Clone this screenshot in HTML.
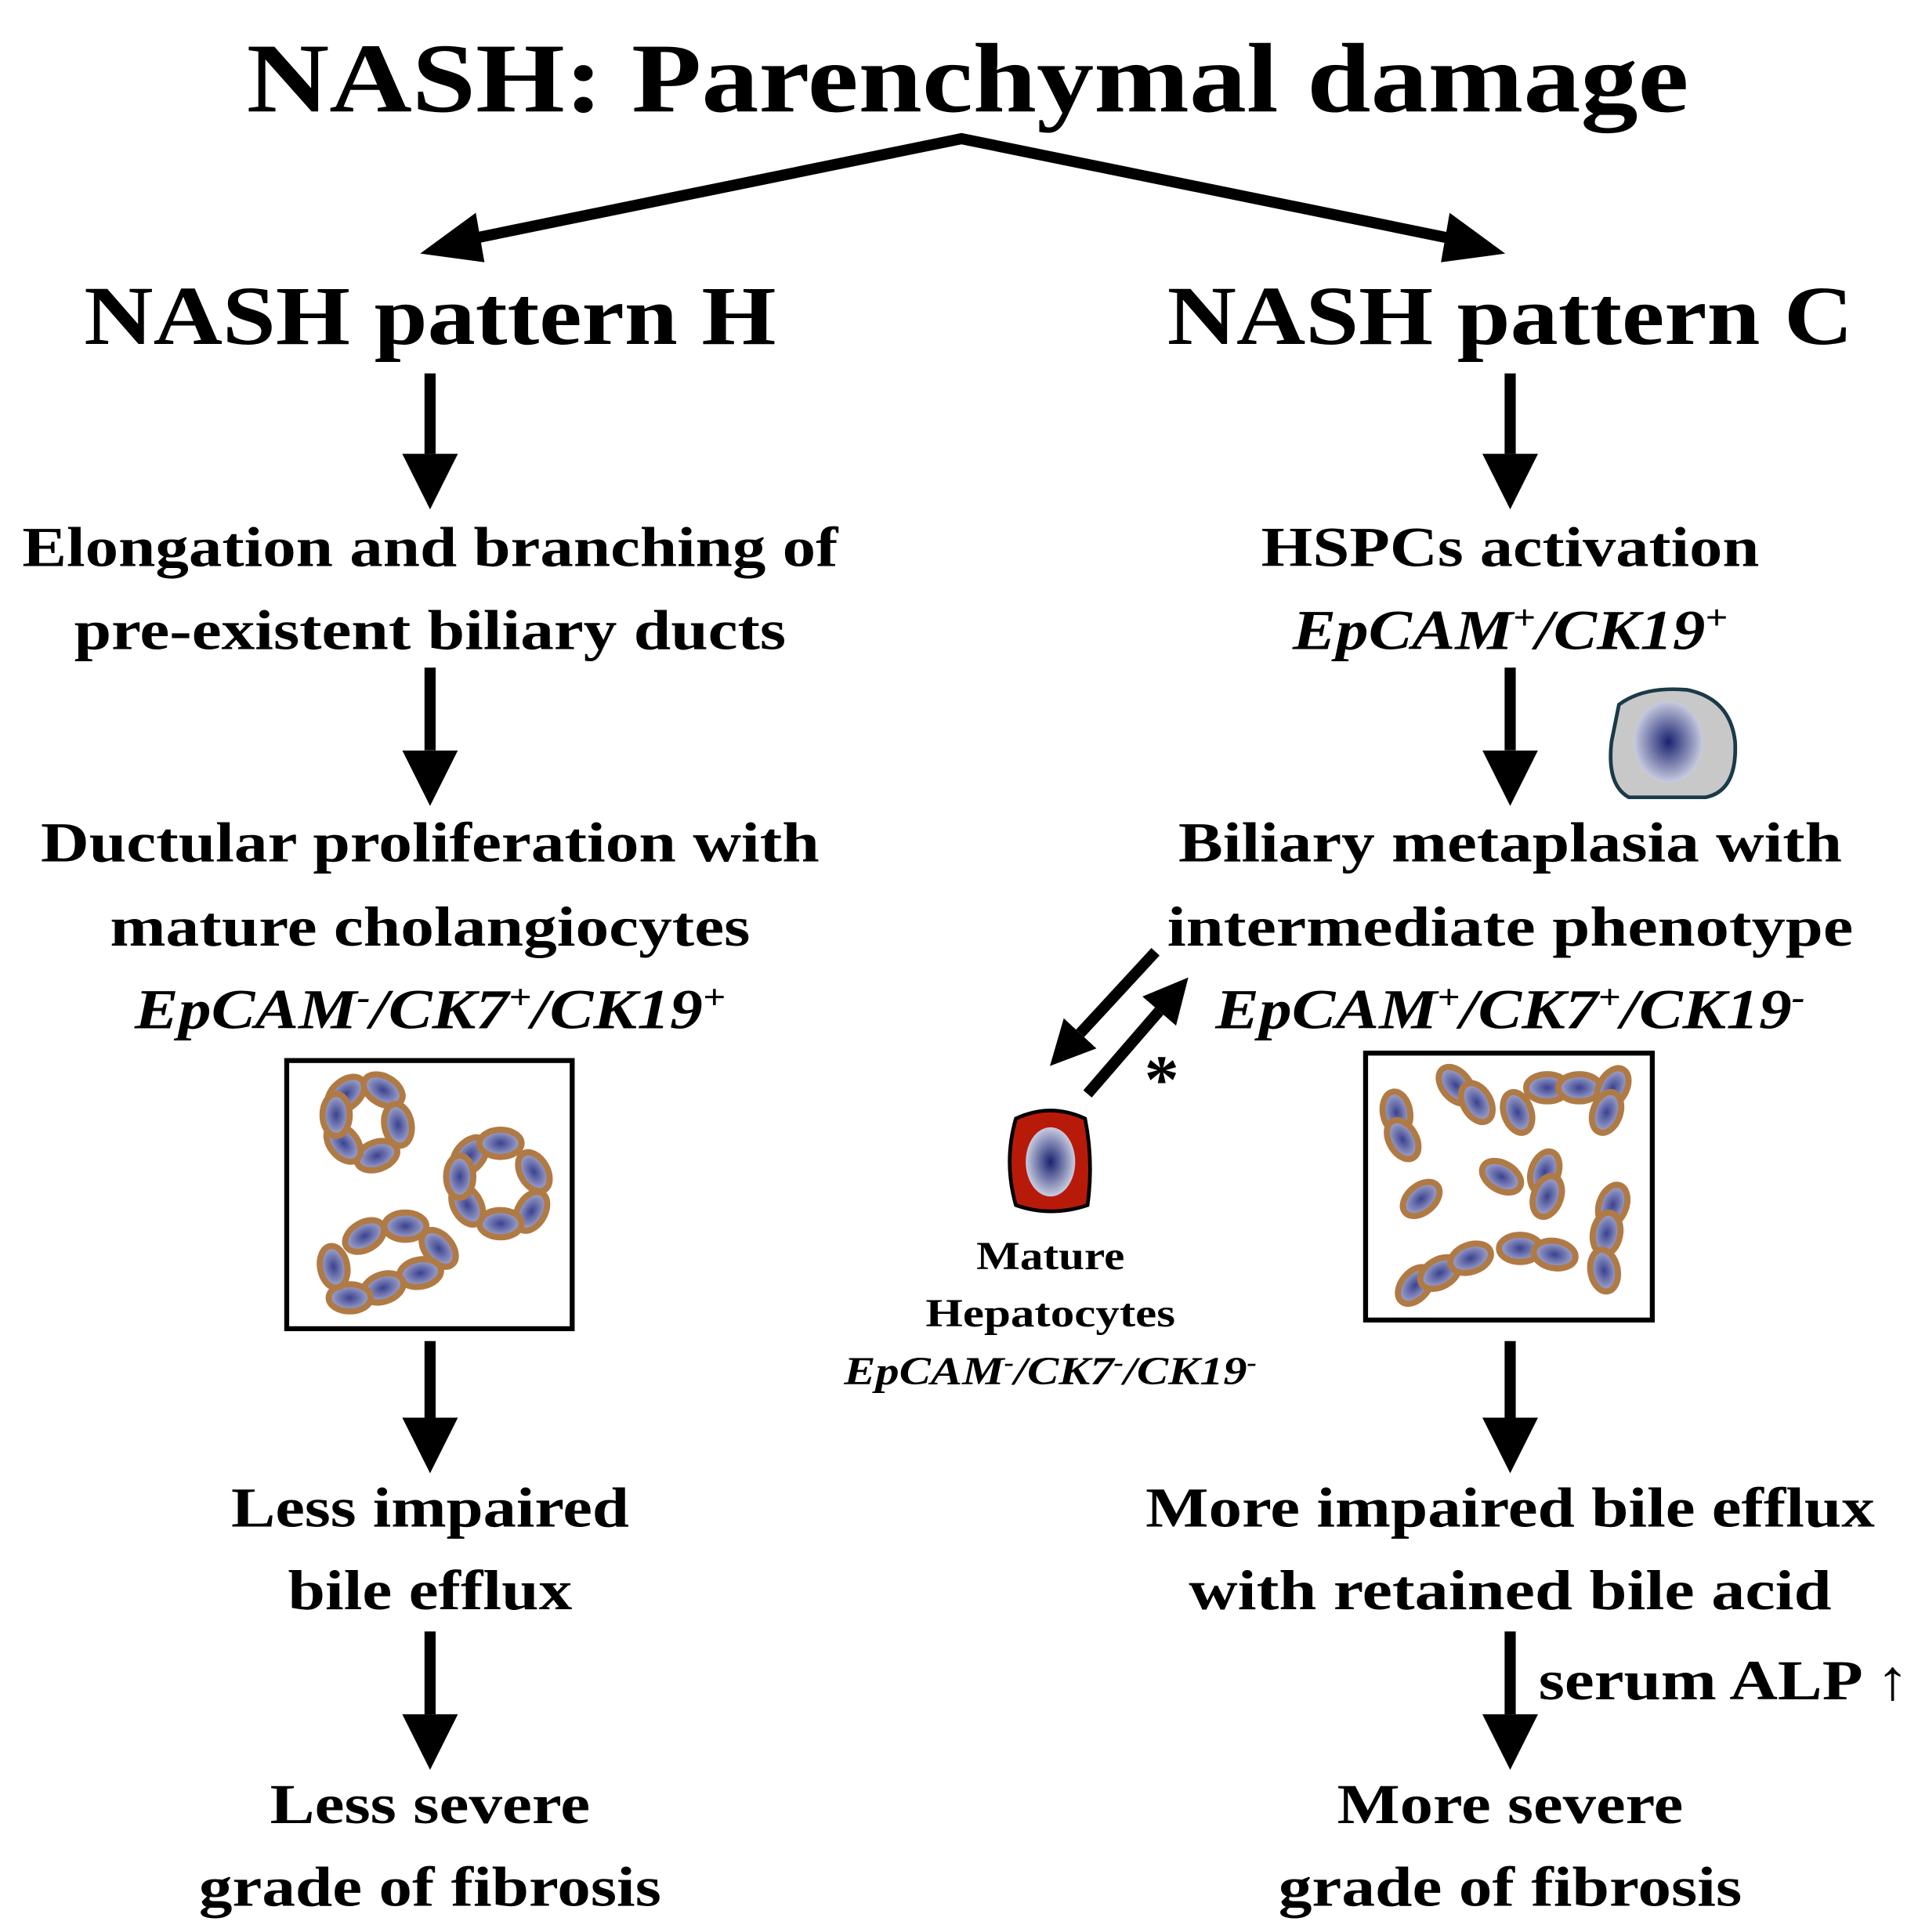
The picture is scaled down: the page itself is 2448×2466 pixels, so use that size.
<!DOCTYPE html>
<html><head><meta charset="utf-8"><style>
html,body{margin:0;padding:0;background:#fff}
svg{display:block}
text{font-family:"Liberation Serif",serif;font-weight:bold;fill:#000;text-anchor:middle}
.it{font-style:italic}
</style></head><body>
<svg width="2448" height="2466" viewBox="0 0 1552 1563" xmlns="http://www.w3.org/2000/svg">
<defs>
<radialGradient id="nuc" cx="50%" cy="50%" r="50%">
<stop offset="0" stop-color="#1a2270"/><stop offset="1" stop-color="#c8cce0"/></radialGradient>
<radialGradient id="cellg" cx="50%" cy="50%" r="50%">
<stop offset="0" stop-color="#3a4290"/><stop offset="1" stop-color="#a8acd0"/></radialGradient>
<marker id="ah" markerWidth="5" markerHeight="5" refX="0" refY="2.5" orient="auto" markerUnits="strokeWidth">
<path d="M0,0 L5,2.5 L0,5 Z" fill="#000"/></marker>
<marker id="ah2" markerWidth="4" markerHeight="4" refX="0" refY="2" orient="auto" markerUnits="strokeWidth">
<path d="M0,0 L4,2 L0,4 Z" fill="#000"/></marker>
<g id="c"><ellipse rx="17" ry="11" fill="url(#cellg)" stroke="#b07a45" stroke-width="5"/></g>
</defs>
<rect width="1552" height="1563" fill="#fff"/>
<text x="783" y="90" font-size="80" textLength="1167" lengthAdjust="spacingAndGlyphs">NASH: Parenchymal damage</text>
<g stroke="#000" stroke-width="9" fill="none">
<polyline points="372,195 778,112 1185,195"/>
</g>
<path d="M340,205 L385,172 L392,212 Z" fill="#000"/>
<path d="M1218,205 L1173,172 L1166,212 Z" fill="#000"/>
<text x="348" y="278" font-size="68" textLength="560" lengthAdjust="spacingAndGlyphs">NASH pattern H</text>
<text x="1222" y="278" font-size="68" textLength="555" lengthAdjust="spacingAndGlyphs">NASH pattern C</text>
<g stroke="#000" stroke-width="9" marker-end="url(#ah)">
<line x1="348" y1="302" x2="348" y2="367"/>
<line x1="348" y1="540" x2="348" y2="607"/>
<line x1="348" y1="1085" x2="348" y2="1147"/>
<line x1="348" y1="1320" x2="348" y2="1387"/>
<line x1="1222" y1="302" x2="1222" y2="367"/>
<line x1="1222" y1="540" x2="1222" y2="607"/>
<line x1="1222" y1="1085" x2="1222" y2="1147"/>
<line x1="1222" y1="1320" x2="1222" y2="1387"/>
</g>
<g stroke="#000" stroke-width="9" marker-end="url(#ah2)">
<line x1="935" y1="770" x2="874" y2="836"/>
<line x1="880" y1="885" x2="938" y2="818"/>
</g>
<g font-size="46">
<text x="348" y="458" textLength="660" lengthAdjust="spacingAndGlyphs">Elongation and branching of</text>
<text x="348" y="525" textLength="576" lengthAdjust="spacingAndGlyphs">pre-existent biliary ducts</text>
<text x="348" y="697" textLength="630" lengthAdjust="spacingAndGlyphs">Ductular proliferation with</text>
<text x="348" y="765" textLength="518" lengthAdjust="spacingAndGlyphs">mature cholangiocytes</text>
<text x="348" y="832" class="it" textLength="478" lengthAdjust="spacingAndGlyphs">EpCAM<tspan font-size="28" dy="-16">-</tspan><tspan dy="16">/CK7</tspan><tspan font-size="28" dy="-16">+</tspan><tspan dy="16">/CK19</tspan><tspan font-size="28" dy="-16">+</tspan></text>
<text x="348" y="1235" textLength="322" lengthAdjust="spacingAndGlyphs">Less impaired</text>
<text x="348" y="1302" textLength="230" lengthAdjust="spacingAndGlyphs">bile efflux</text>
<text x="348" y="1475" textLength="259" lengthAdjust="spacingAndGlyphs">Less severe</text>
<text x="348" y="1542" textLength="374" lengthAdjust="spacingAndGlyphs">grade of fibrosis</text>
<text x="1222" y="458" textLength="403" lengthAdjust="spacingAndGlyphs">HSPCs activation</text>
<text x="1222" y="525" class="it" textLength="352" lengthAdjust="spacingAndGlyphs">EpCAM<tspan font-size="28" dy="-16">+</tspan><tspan dy="16">/CK19</tspan><tspan font-size="28" dy="-16">+</tspan></text>
<text x="1222" y="697" textLength="537" lengthAdjust="spacingAndGlyphs">Biliary metaplasia with</text>
<text x="1222" y="765" textLength="555" lengthAdjust="spacingAndGlyphs">intermediate phenotype</text>
<text x="1222" y="832" class="it" textLength="477" lengthAdjust="spacingAndGlyphs">EpCAM<tspan font-size="28" dy="-16">+</tspan><tspan dy="16">/CK7</tspan><tspan font-size="28" dy="-16">+</tspan><tspan dy="16">/CK19</tspan><tspan font-size="28" dy="-16">-</tspan></text>
<text x="1222" y="1235" textLength="590" lengthAdjust="spacingAndGlyphs">More impaired bile efflux</text>
<text x="1222" y="1302" textLength="520" lengthAdjust="spacingAndGlyphs">with retained bile acid</text>
<text x="1395" y="1375" textLength="300" lengthAdjust="spacingAndGlyphs">serum ALP ↑</text>
<text x="1222" y="1475" textLength="280" lengthAdjust="spacingAndGlyphs">More severe</text>
<text x="1222" y="1542" textLength="375" lengthAdjust="spacingAndGlyphs">grade of fibrosis</text>
</g>
<text x="940" y="892" font-size="56">*</text>
<g font-size="32">
<text x="850" y="1027" textLength="120" lengthAdjust="spacingAndGlyphs">Mature</text>
<text x="850" y="1073" textLength="202" lengthAdjust="spacingAndGlyphs">Hepatocytes</text>
<text x="850" y="1120" class="it" textLength="334" lengthAdjust="spacingAndGlyphs">EpCAM<tspan font-size="20" dy="-11">-</tspan><tspan dy="11">/CK7</tspan><tspan font-size="20" dy="-11">-</tspan><tspan dy="11">/CK19</tspan><tspan font-size="20" dy="-11">-</tspan></text>
</g>
<!-- HSPC cell -->
<path d="M1310,570 Q1330,555 1365,558 Q1400,565 1404,600 Q1406,640 1380,645 L1318,645 Q1300,635 1304,600 Z" fill="#c8c8c8" stroke="#1a3a48" stroke-width="3"/>
<ellipse cx="1350" cy="600" rx="28" ry="33" fill="url(#nuc)"/>
<!-- hepatocyte -->
<path d="M822,905 Q850,892 878,905 Q885,940 880,975 Q850,985 822,975 Q812,940 822,905 Z" fill="#b81a0a" stroke="#000" stroke-width="3"/>
<ellipse cx="850" cy="940" rx="20" ry="28" fill="url(#nuc)"/>
<!-- left box -->
<rect x="232" y="858" width="231" height="217" fill="#fff" stroke="#000" stroke-width="4"/>
<g>
<use href="#c" transform="translate(280,885) rotate(-40)"/>
<use href="#c" transform="translate(310,882) rotate(30)"/>
<use href="#c" transform="translate(322,910) rotate(80)"/>
<use href="#c" transform="translate(305,935) rotate(-20)"/>
<use href="#c" transform="translate(278,925) rotate(50)"/>
<use href="#c" transform="translate(272,902) rotate(90)"/>
<use href="#c" transform="translate(380,935) rotate(-50)"/>
<use href="#c" transform="translate(405,925) rotate(0)"/>
<use href="#c" transform="translate(432,948) rotate(60)"/>
<use href="#c" transform="translate(430,980) rotate(-60)"/>
<use href="#c" transform="translate(405,990) rotate(0)"/>
<use href="#c" transform="translate(378,975) rotate(60)"/>
<use href="#c" transform="translate(372,952) rotate(90)"/>
<use href="#c" transform="translate(295,1000) rotate(-30)"/>
<use href="#c" transform="translate(328,992) rotate(0)"/>
<use href="#c" transform="translate(355,1010) rotate(50)"/>
<use href="#c" transform="translate(340,1030) rotate(-10)"/>
<use href="#c" transform="translate(310,1042) rotate(-20)"/>
<use href="#c" transform="translate(283,1050) rotate(0)"/>
<use href="#c" transform="translate(270,1025) rotate(80)"/>
</g>
<!-- right box -->
<rect x="1105" y="852" width="232" height="216" fill="#fff" stroke="#000" stroke-width="4"/>
<g>
<use href="#c" transform="translate(1130,900) rotate(80)"/>
<use href="#c" transform="translate(1135,922) rotate(60)"/>
<use href="#c" transform="translate(1178,878) rotate(50)"/>
<use href="#c" transform="translate(1195,892) rotate(60)"/>
<use href="#c" transform="translate(1228,900) rotate(70)"/>
<use href="#c" transform="translate(1252,880) rotate(0)"/>
<use href="#c" transform="translate(1278,880) rotate(0)"/>
<use href="#c" transform="translate(1305,880) rotate(-60)"/>
<use href="#c" transform="translate(1300,900) rotate(-70)"/>
<use href="#c" transform="translate(1150,970) rotate(-40)"/>
<use href="#c" transform="translate(1215,952) rotate(30)"/>
<use href="#c" transform="translate(1250,948) rotate(-70)"/>
<use href="#c" transform="translate(1252,968) rotate(-70)"/>
<use href="#c" transform="translate(1305,975) rotate(-70)"/>
<use href="#c" transform="translate(1300,998) rotate(-80)"/>
<use href="#c" transform="translate(1298,1028) rotate(80)"/>
<use href="#c" transform="translate(1145,1040) rotate(-50)"/>
<use href="#c" transform="translate(1165,1030) rotate(-30)"/>
<use href="#c" transform="translate(1190,1018) rotate(-20)"/>
<use href="#c" transform="translate(1230,1010) rotate(0)"/>
<use href="#c" transform="translate(1258,1015) rotate(10)"/>
</g>
</svg>
</body></html>
